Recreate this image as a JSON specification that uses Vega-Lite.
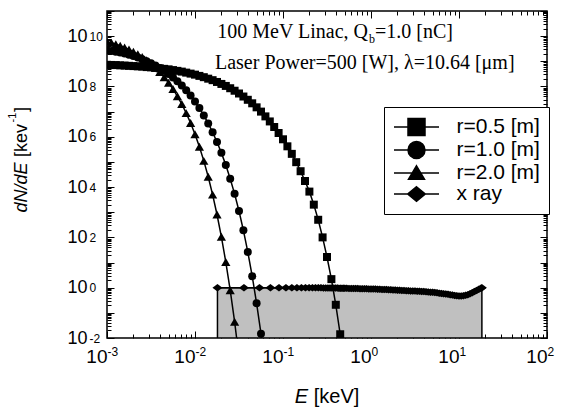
{
  "$schema": "https://vega.github.io/schema/vega-lite/v6.json",
  "width": 440,
  "height": 327,
  "autosize": {"type": "none"},
  "padding": {"left": 107, "top": 11, "right": 14, "bottom": 73},
  "background": "white",
  "config": {
    "view": {"stroke": "black", "strokeWidth": 1.5},
    "axis": {"grid": false, "domain": false, "tickColor": "black", "labelColor": "black", "titleColor": "black", "labelFlush": false, "labelOverlap": false, "labelFont": "Liberation Sans", "titleFont": "Liberation Sans", "titleFontWeight": "normal"}
  },
  "datasets": {
    "curves": [
      {"s": "r=0.5 [m]", "E": 0.001, "N": 7.24e8},
      {"s": "r=0.5 [m]", "E": 0.001122, "N": 7.16e8},
      {"s": "r=0.5 [m]", "E": 0.001259, "N": 7.08e8},
      {"s": "r=0.5 [m]", "E": 0.001413, "N": 6.92e8},
      {"s": "r=0.5 [m]", "E": 0.001585, "N": 6.76e8},
      {"s": "r=0.5 [m]", "E": 0.001778, "N": 6.61e8},
      {"s": "r=0.5 [m]", "E": 0.001995, "N": 6.46e8},
      {"s": "r=0.5 [m]", "E": 0.002239, "N": 6.31e8},
      {"s": "r=0.5 [m]", "E": 0.002512, "N": 6.17e8},
      {"s": "r=0.5 [m]", "E": 0.002818, "N": 5.89e8},
      {"s": "r=0.5 [m]", "E": 0.003162, "N": 5.75e8},
      {"s": "r=0.5 [m]", "E": 0.003548, "N": 5.50e8},
      {"s": "r=0.5 [m]", "E": 0.003981, "N": 5.25e8},
      {"s": "r=0.5 [m]", "E": 0.004467, "N": 5.01e8},
      {"s": "r=0.5 [m]", "E": 0.005012, "N": 4.79e8},
      {"s": "r=0.5 [m]", "E": 0.005623, "N": 4.47e8},
      {"s": "r=0.5 [m]", "E": 0.00631, "N": 4.17e8},
      {"s": "r=0.5 [m]", "E": 0.007079, "N": 3.89e8},
      {"s": "r=0.5 [m]", "E": 0.007943, "N": 3.55e8},
      {"s": "r=0.5 [m]", "E": 0.008913, "N": 3.24e8},
      {"s": "r=0.5 [m]", "E": 0.01, "N": 2.95e8},
      {"s": "r=0.5 [m]", "E": 0.01122, "N": 2.63e8},
      {"s": "r=0.5 [m]", "E": 0.01259, "N": 2.34e8},
      {"s": "r=0.5 [m]", "E": 0.01413, "N": 2.04e8},
      {"s": "r=0.5 [m]", "E": 0.01585, "N": 1.78e8},
      {"s": "r=0.5 [m]", "E": 0.01778, "N": 1.51e8},
      {"s": "r=0.5 [m]", "E": 0.01995, "N": 1.26e8},
      {"s": "r=0.5 [m]", "E": 0.02239, "N": 1.05e8},
      {"s": "r=0.5 [m]", "E": 0.02512, "N": 8.51e7},
      {"s": "r=0.5 [m]", "E": 0.02818, "N": 6.76e7},
      {"s": "r=0.5 [m]", "E": 0.03162, "N": 5.25e7},
      {"s": "r=0.5 [m]", "E": 0.03548, "N": 3.98e7},
      {"s": "r=0.5 [m]", "E": 0.03981, "N": 2.95e7},
      {"s": "r=0.5 [m]", "E": 0.04467, "N": 2.14e7},
      {"s": "r=0.5 [m]", "E": 0.05012, "N": 1.48e7},
      {"s": "r=0.5 [m]", "E": 0.05623, "N": 1.0e7},
      {"s": "r=0.5 [m]", "E": 0.0631, "N": 6.46e6},
      {"s": "r=0.5 [m]", "E": 0.07079, "N": 4.07e6},
      {"s": "r=0.5 [m]", "E": 0.07943, "N": 2.45e6},
      {"s": "r=0.5 [m]", "E": 0.08913, "N": 1.41e6},
      {"s": "r=0.5 [m]", "E": 0.1, "N": 7.94e5},
      {"s": "r=0.5 [m]", "E": 0.1122, "N": 4.17e5},
      {"s": "r=0.5 [m]", "E": 0.1259, "N": 2.09e5},
      {"s": "r=0.5 [m]", "E": 0.1413, "N": 9.77e4},
      {"s": "r=0.5 [m]", "E": 0.1585, "N": 4.27e4},
      {"s": "r=0.5 [m]", "E": 0.1778, "N": 1.74e4},
      {"s": "r=0.5 [m]", "E": 0.1995, "N": 6.61e3},
      {"s": "r=0.5 [m]", "E": 0.2239, "N": 2.0e3},
      {"s": "r=0.5 [m]", "E": 0.2512, "N": 501},
      {"s": "r=0.5 [m]", "E": 0.2818, "N": 100},
      {"s": "r=0.5 [m]", "E": 0.3162, "N": 16.6},
      {"s": "r=0.5 [m]", "E": 0.3548, "N": 2.19},
      {"s": "r=0.5 [m]", "E": 0.3981, "N": 0.209},
      {"s": "r=0.5 [m]", "E": 0.4467, "N": 0.0141},
      {"s": "r=1.0 [m]", "E": 0.001, "N": 2.75e9},
      {"s": "r=1.0 [m]", "E": 0.001122, "N": 2.57e9},
      {"s": "r=1.0 [m]", "E": 0.001259, "N": 2.40e9},
      {"s": "r=1.0 [m]", "E": 0.001413, "N": 2.24e9},
      {"s": "r=1.0 [m]", "E": 0.001585, "N": 2.04e9},
      {"s": "r=1.0 [m]", "E": 0.001778, "N": 1.82e9},
      {"s": "r=1.0 [m]", "E": 0.001995, "N": 1.62e9},
      {"s": "r=1.0 [m]", "E": 0.002239, "N": 1.41e9},
      {"s": "r=1.0 [m]", "E": 0.002512, "N": 1.20e9},
      {"s": "r=1.0 [m]", "E": 0.002818, "N": 1.0e9},
      {"s": "r=1.0 [m]", "E": 0.003162, "N": 8.32e8},
      {"s": "r=1.0 [m]", "E": 0.003548, "N": 6.76e8},
      {"s": "r=1.0 [m]", "E": 0.003981, "N": 5.37e8},
      {"s": "r=1.0 [m]", "E": 0.004467, "N": 4.17e8},
      {"s": "r=1.0 [m]", "E": 0.005012, "N": 3.16e8},
      {"s": "r=1.0 [m]", "E": 0.005623, "N": 2.29e8},
      {"s": "r=1.0 [m]", "E": 0.00631, "N": 1.62e8},
      {"s": "r=1.0 [m]", "E": 0.007079, "N": 1.10e8},
      {"s": "r=1.0 [m]", "E": 0.007943, "N": 7.08e7},
      {"s": "r=1.0 [m]", "E": 0.008913, "N": 4.37e7},
      {"s": "r=1.0 [m]", "E": 0.01, "N": 2.51e7},
      {"s": "r=1.0 [m]", "E": 0.01122, "N": 1.38e7},
      {"s": "r=1.0 [m]", "E": 0.01259, "N": 7.08e6},
      {"s": "r=1.0 [m]", "E": 0.01413, "N": 3.39e6},
      {"s": "r=1.0 [m]", "E": 0.01585, "N": 1.51e6},
      {"s": "r=1.0 [m]", "E": 0.01778, "N": 6.17e5},
      {"s": "r=1.0 [m]", "E": 0.01995, "N": 2.29e5},
      {"s": "r=1.0 [m]", "E": 0.02239, "N": 7.59e4},
      {"s": "r=1.0 [m]", "E": 0.02512, "N": 2.14e4},
      {"s": "r=1.0 [m]", "E": 0.02818, "N": 5.37e3},
      {"s": "r=1.0 [m]", "E": 0.03162, "N": 1.12e3},
      {"s": "r=1.0 [m]", "E": 0.03548, "N": 191},
      {"s": "r=1.0 [m]", "E": 0.03981, "N": 26.3},
      {"s": "r=1.0 [m]", "E": 0.04467, "N": 2.88},
      {"s": "r=1.0 [m]", "E": 0.05012, "N": 0.240},
      {"s": "r=1.0 [m]", "E": 0.05623, "N": 0.0148},
      {"s": "r=1.0 [m]", "E": 0.0631, "N": 6.3e-4},
      {"s": "r=2.0 [m]", "E": 0.001, "N": 6.03e9},
      {"s": "r=2.0 [m]", "E": 0.001122, "N": 5.50e9},
      {"s": "r=2.0 [m]", "E": 0.001259, "N": 4.79e9},
      {"s": "r=2.0 [m]", "E": 0.001413, "N": 4.17e9},
      {"s": "r=2.0 [m]", "E": 0.001585, "N": 3.55e9},
      {"s": "r=2.0 [m]", "E": 0.001778, "N": 2.95e9},
      {"s": "r=2.0 [m]", "E": 0.001995, "N": 2.40e9},
      {"s": "r=2.0 [m]", "E": 0.002239, "N": 1.91e9},
      {"s": "r=2.0 [m]", "E": 0.002512, "N": 1.48e9},
      {"s": "r=2.0 [m]", "E": 0.002818, "N": 1.10e9},
      {"s": "r=2.0 [m]", "E": 0.003162, "N": 7.94e8},
      {"s": "r=2.0 [m]", "E": 0.003548, "N": 5.50e8},
      {"s": "r=2.0 [m]", "E": 0.003981, "N": 3.72e8},
      {"s": "r=2.0 [m]", "E": 0.004467, "N": 2.34e8},
      {"s": "r=2.0 [m]", "E": 0.005012, "N": 1.41e8},
      {"s": "r=2.0 [m]", "E": 0.005623, "N": 7.94e7},
      {"s": "r=2.0 [m]", "E": 0.00631, "N": 4.07e7},
      {"s": "r=2.0 [m]", "E": 0.007079, "N": 2.0e7},
      {"s": "r=2.0 [m]", "E": 0.007943, "N": 8.71e6},
      {"s": "r=2.0 [m]", "E": 0.008913, "N": 3.55e6},
      {"s": "r=2.0 [m]", "E": 0.01, "N": 1.26e6},
      {"s": "r=2.0 [m]", "E": 0.01122, "N": 3.98e5},
      {"s": "r=2.0 [m]", "E": 0.01259, "N": 1.10e5},
      {"s": "r=2.0 [m]", "E": 0.01413, "N": 2.57e4},
      {"s": "r=2.0 [m]", "E": 0.01585, "N": 5.01e3},
      {"s": "r=2.0 [m]", "E": 0.01778, "N": 813},
      {"s": "r=2.0 [m]", "E": 0.01995, "N": 105},
      {"s": "r=2.0 [m]", "E": 0.02239, "N": 10.5},
      {"s": "r=2.0 [m]", "E": 0.02512, "N": 0.794},
      {"s": "r=2.0 [m]", "E": 0.02818, "N": 0.0447},
      {"s": "r=2.0 [m]", "E": 0.03162, "N": 1.74e-3},
      {"s": "x ray", "E": 0.018, "N": 1},
      {"s": "x ray", "E": 0.036, "N": 1},
      {"s": "x ray", "E": 0.054, "N": 1},
      {"s": "x ray", "E": 0.072, "N": 1},
      {"s": "x ray", "E": 0.09, "N": 1},
      {"s": "x ray", "E": 0.108, "N": 1},
      {"s": "x ray", "E": 0.126, "N": 1},
      {"s": "x ray", "E": 0.144, "N": 1},
      {"s": "x ray", "E": 0.162, "N": 1},
      {"s": "x ray", "E": 0.18, "N": 1},
      {"s": "x ray", "E": 0.198, "N": 1},
      {"s": "x ray", "E": 0.216, "N": 0.995},
      {"s": "x ray", "E": 0.234, "N": 0.992},
      {"s": "x ray", "E": 0.252, "N": 0.989},
      {"s": "x ray", "E": 0.27, "N": 0.986},
      {"s": "x ray", "E": 0.288, "N": 0.983},
      {"s": "x ray", "E": 0.306, "N": 0.98},
      {"s": "x ray", "E": 0.324, "N": 0.977},
      {"s": "x ray", "E": 0.342, "N": 0.974},
      {"s": "x ray", "E": 0.36, "N": 0.971},
      {"s": "x ray", "E": 0.378, "N": 0.968},
      {"s": "x ray", "E": 0.396, "N": 0.965},
      {"s": "x ray", "E": 0.414, "N": 0.962},
      {"s": "x ray", "E": 0.432, "N": 0.959},
      {"s": "x ray", "E": 0.45, "N": 0.956},
      {"s": "x ray", "E": 0.468, "N": 0.953},
      {"s": "x ray", "E": 0.486, "N": 0.95},
      {"s": "x ray", "E": 0.504, "N": 0.947},
      {"s": "x ray", "E": 0.5309, "N": 0.942},
      {"s": "x ray", "E": 0.5623, "N": 0.938},
      {"s": "x ray", "E": 0.5957, "N": 0.934},
      {"s": "x ray", "E": 0.631, "N": 0.93},
      {"s": "x ray", "E": 0.6683, "N": 0.925},
      {"s": "x ray", "E": 0.7079, "N": 0.92},
      {"s": "x ray", "E": 0.7499, "N": 0.915},
      {"s": "x ray", "E": 0.7943, "N": 0.91},
      {"s": "x ray", "E": 0.8414, "N": 0.905},
      {"s": "x ray", "E": 0.8913, "N": 0.9},
      {"s": "x ray", "E": 0.9441, "N": 0.895},
      {"s": "x ray", "E": 1.0, "N": 0.891},
      {"s": "x ray", "E": 1.059, "N": 0.886},
      {"s": "x ray", "E": 1.122, "N": 0.88},
      {"s": "x ray", "E": 1.189, "N": 0.872},
      {"s": "x ray", "E": 1.259, "N": 0.862},
      {"s": "x ray", "E": 1.334, "N": 0.855},
      {"s": "x ray", "E": 1.413, "N": 0.848},
      {"s": "x ray", "E": 1.496, "N": 0.84},
      {"s": "x ray", "E": 1.585, "N": 0.833},
      {"s": "x ray", "E": 1.679, "N": 0.825},
      {"s": "x ray", "E": 1.778, "N": 0.816},
      {"s": "x ray", "E": 1.884, "N": 0.805},
      {"s": "x ray", "E": 1.995, "N": 0.794},
      {"s": "x ray", "E": 2.113, "N": 0.786},
      {"s": "x ray", "E": 2.239, "N": 0.778},
      {"s": "x ray", "E": 2.371, "N": 0.77},
      {"s": "x ray", "E": 2.512, "N": 0.762},
      {"s": "x ray", "E": 2.661, "N": 0.754},
      {"s": "x ray", "E": 2.818, "N": 0.746},
      {"s": "x ray", "E": 2.985, "N": 0.741},
      {"s": "x ray", "E": 3.162, "N": 0.733},
      {"s": "x ray", "E": 3.35, "N": 0.725},
      {"s": "x ray", "E": 3.548, "N": 0.717},
      {"s": "x ray", "E": 3.758, "N": 0.708},
      {"s": "x ray", "E": 3.981, "N": 0.7},
      {"s": "x ray", "E": 4.217, "N": 0.69},
      {"s": "x ray", "E": 4.467, "N": 0.678},
      {"s": "x ray", "E": 4.732, "N": 0.665},
      {"s": "x ray", "E": 5.012, "N": 0.652},
      {"s": "x ray", "E": 5.309, "N": 0.638},
      {"s": "x ray", "E": 5.623, "N": 0.624},
      {"s": "x ray", "E": 5.957, "N": 0.608},
      {"s": "x ray", "E": 6.31, "N": 0.593},
      {"s": "x ray", "E": 6.683, "N": 0.577},
      {"s": "x ray", "E": 7.079, "N": 0.56},
      {"s": "x ray", "E": 7.499, "N": 0.543},
      {"s": "x ray", "E": 7.943, "N": 0.525},
      {"s": "x ray", "E": 8.414, "N": 0.508},
      {"s": "x ray", "E": 8.913, "N": 0.492},
      {"s": "x ray", "E": 9.441, "N": 0.478},
      {"s": "x ray", "E": 10.0, "N": 0.47},
      {"s": "x ray", "E": 10.59, "N": 0.47},
      {"s": "x ray", "E": 11.22, "N": 0.478},
      {"s": "x ray", "E": 11.89, "N": 0.498},
      {"s": "x ray", "E": 12.59, "N": 0.53},
      {"s": "x ray", "E": 13.34, "N": 0.575},
      {"s": "x ray", "E": 14.13, "N": 0.635},
      {"s": "x ray", "E": 14.96, "N": 0.7},
      {"s": "x ray", "E": 15.85, "N": 0.775},
      {"s": "x ray", "E": 16.79, "N": 0.86},
      {"s": "x ray", "E": 17.78, "N": 0.95},
      {"s": "x ray", "E": 18.2, "N": 1.0}
    ],
    "legendrows": [
      {"s": "r=0.5 [m]", "E": 1, "N": 1},
      {"s": "r=1.0 [m]", "E": 1, "N": 1},
      {"s": "r=2.0 [m]", "E": 1, "N": 1},
      {"s": "x ray", "E": 1, "N": 1}
    ]
  },
  "layer": [
    {
      "data": {"name": "curves"},
      "layer": [
        {
          "transform": [{"filter": "datum.s == 'x ray'"}],
          "mark": {"type": "area", "fill": "#c0c0c0", "stroke": "black", "strokeWidth": 1.5, "clip": true},
          "encoding": {
            "x": {"field": "E", "type": "quantitative", "scale": {"type": "log", "domain": [0.001, 100], "nice": false},
              "axis": {
                "orient": "bottom",
                "values": [0.001,0.002,0.003,0.004,0.005,0.006,0.007,0.008,0.009,0.01,0.02,0.03,0.04,0.05,0.06,0.07,0.08,0.09,0.1,0.2,0.3,0.4,0.5,0.6,0.7,0.8,0.9,1,2,3,4,5,6,7,8,9,10,20,30,40,50,60,70,80,90,100],
                "labelExpr": "abs(log(datum.value)/LN10 - round(log(datum.value)/LN10)) < 0.01 ? '10' : ''",
                "tickSize": {"condition": {"test": "abs(log(datum.value)/LN10 - round(log(datum.value)/LN10)) < 0.01", "value": -7}, "value": -4},
                "tickWidth": 1,
                "labelAlign": "right", "labelDx": 5, "labelBaseline": "middle", "labelPadding": 25,
                "labelFontSize": 19,
                "title": "E", "titleFontSize": 20, "titleFontStyle": "italic",
                "titleX": 194, "titleY": 58, "titleAlign": "center", "titleBaseline": "middle", "titleAngle": 0
              }},
            "y": {"field": "N", "type": "quantitative", "scale": {"type": "log", "domain": [0.01, 1e11], "nice": false},
              "axis": {
                "orient": "left",
                "values": [0.01,0.02,0.03,0.04,0.05,0.06,0.07,0.08,0.09,0.1,0.2,0.3,0.4,0.5,0.6,0.7,0.8,0.9,1,2,3,4,5,6,7,8,9,10,20,30,40,50,60,70,80,90,100,200,300,400,500,600,700,800,900,1e3,2e3,3e3,4e3,5e3,6e3,7e3,8e3,9e3,1e4,2e4,3e4,4e4,5e4,6e4,7e4,8e4,9e4,1e5,2e5,3e5,4e5,5e5,6e5,7e5,8e5,9e5,1e6,2e6,3e6,4e6,5e6,6e6,7e6,8e6,9e6,1e7,2e7,3e7,4e7,5e7,6e7,7e7,8e7,9e7,1e8,2e8,3e8,4e8,5e8,6e8,7e8,8e8,9e8,1e9,2e9,3e9,4e9,5e9,6e9,7e9,8e9,9e9,1e10,2e10,3e10,4e10,5e10,6e10,7e10,8e10,9e10,1e11],
                "labelExpr": "(abs(log(datum.value)/LN10 - round(log(datum.value)/LN10)) < 0.01 && round(log(datum.value)/LN10) % 2 == 0) ? '10' : ''",
                "tickSize": {"condition": {"test": "abs(log(datum.value)/LN10 - round(log(datum.value)/LN10)) < 0.01", "value": -7}, "value": -4},
                "tickWidth": 1,
                "labelAlign": "right", "labelBaseline": "middle", "labelPadding": 27,
                "labelFontSize": 18,
                "title": "dN/dE", "titleFontSize": 18, "titleFontStyle": "italic",
                "titleAngle": 270, "titleX": -86, "titleY": 176, "titleAlign": "center", "titleBaseline": "middle"
              }},
            "y2": {"datum": 0.01}
          }
        },
        {
          "mark": {"type": "line", "color": "black", "strokeWidth": 1.5, "clip": true},
          "encoding": {
            "x": {"field": "E", "type": "quantitative"},
            "y": {"field": "N", "type": "quantitative"},
            "detail": {"field": "s"}
          }
        },
        {
          "transform": [{"filter": "datum.s == 'r=0.5 [m]'"}],
          "mark": {"type": "point", "shape": "square", "size": 64, "filled": true, "color": "black", "opacity": 1, "clip": true},
          "encoding": {"x": {"field": "E", "type": "quantitative"}, "y": {"field": "N", "type": "quantitative"}}
        },
        {
          "transform": [{"filter": "datum.s == 'r=1.0 [m]'"}],
          "mark": {"type": "point", "shape": "circle", "size": 64, "filled": true, "color": "black", "opacity": 1, "clip": true},
          "encoding": {"x": {"field": "E", "type": "quantitative"}, "y": {"field": "N", "type": "quantitative"}}
        },
        {
          "transform": [{"filter": "datum.s == 'r=2.0 [m]'"}],
          "mark": {"type": "point", "shape": "triangle-up", "size": 85, "filled": true, "color": "black", "opacity": 1, "clip": true},
          "encoding": {"x": {"field": "E", "type": "quantitative"}, "y": {"field": "N", "type": "quantitative"}}
        },
        {
          "transform": [{"filter": "datum.s == 'x ray'"}],
          "mark": {"type": "point", "shape": "M-1,0L0,-0.75L1,0L0,0.75Z", "size": 100, "filled": true, "color": "black", "opacity": 1, "clip": true},
          "encoding": {"x": {"field": "E", "type": "quantitative"}, "y": {"field": "N", "type": "quantitative"}}
        },
        {
          "data": {"values": [{"t": "100 MeV Linac, Q", "E": 0.9247, "N": 8.3e9}]},
          "mark": {"type": "text", "align": "right", "baseline": "alphabetic", "font": "Liberation Serif", "fontSize": 20, "fill": "black"},
          "encoding": {"x": {"field": "E", "type": "quantitative"}, "y": {"field": "N", "type": "quantitative"}, "text": {"field": "t"}}
        },
        {
          "data": {"values": [{"t": "b", "E": 0.949, "N": 5.25e9}]},
          "mark": {"type": "text", "align": "left", "baseline": "alphabetic", "font": "Liberation Serif", "fontSize": 12, "fill": "black"},
          "encoding": {"x": {"field": "E", "type": "quantitative"}, "y": {"field": "N", "type": "quantitative"}, "text": {"field": "t"}}
        },
        {
          "data": {"values": [{"t": "=1.0 [nC]", "E": 1.11, "N": 8.3e9}, {"t": "Laser Power=500 [W], λ=10.64 [μm]", "E": 0.01687, "N": 4.8e8}]},
          "mark": {"type": "text", "align": "left", "baseline": "alphabetic", "font": "Liberation Serif", "fontSize": 20, "fill": "black"},
          "encoding": {"x": {"field": "E", "type": "quantitative"}, "y": {"field": "N", "type": "quantitative"}, "text": {"field": "t"}}
        }
      ]
    },
    {
      "data": {"name": "legendrows"},
      "mark": {"type": "point", "filled": false, "fill": "black", "stroke": "black", "strokeWidth": 1.5, "opacity": 0},
      "encoding": {
        "x": {"field": "E", "type": "quantitative", "scale": {"type": "log", "domain": [0.001, 100], "nice": false},
          "axis": {"orient": "bottom", "values": [0.001, 0.01, 0.1, 1, 10, 100], "ticks": false, "tickSize": 0,
            "labelExpr": "'' + round(log(datum.value)/LN10)",
            "labelAlign": "left", "labelDx": 5, "labelBaseline": "middle", "labelPadding": 13, "labelFontSize": 12,
            "title": "[keV]", "titleFontSize": 20, "titleX": 229, "titleY": 58, "titleAlign": "center", "titleBaseline": "middle"}},
        "y": {"field": "N", "type": "quantitative", "scale": {"type": "log", "domain": [0.01, 1e11], "nice": false},
          "axis": {"orient": "left", "values": [0.01, 1, 100, 1e4, 1e6, 1e8, 1e10], "ticks": false, "tickSize": 0,
            "labelExpr": "'' + round(log(datum.value)/LN10)",
            "labelAlign": "left", "labelBaseline": "middle", "labelPadding": 18, "labelDy": -6, "labelFontSize": 12,
            "title": "[kev", "titleFontSize": 18, "titleAngle": 270, "titleX": -86, "titleY": 129, "titleAlign": "center", "titleBaseline": "middle"}},
        "shape": {"field": "s", "type": "nominal",
          "scale": {"domain": ["r=0.5 [m]", "r=1.0 [m]", "r=2.0 [m]", "x ray"],
            "range": [
              "M-2.25,0H2.25M-0.85,-0.85H0.85V0.85H-0.85Z",
              "M-2.25,0H2.25M0.85,0A0.85,0.85,0,1,1,-0.85,0A0.85,0.85,0,1,1,0.85,0Z",
              "M-2.25,0H2.25M0,-0.72L0.8,0.62H-0.8Z",
              "M-2.25,0H2.25M0,-0.72L0.88,0L0,0.72L-0.88,0Z"
            ]},
          "legend": {"orient": "none", "legendX": 277, "legendY": 96, "title": null,
            "strokeColor": "black", "fillColor": "white", "padding": 9,
            "symbolSize": 400, "symbolOffset": 12.5, "symbolStrokeWidth": 1.5, "symbolOpacity": 1,
            "labelFont": "Liberation Sans", "labelFontSize": 21, "labelColor": "black", "labelOffset": 29, "rowPadding": -1,
            "encode": {"symbols": {"fill": {"value": "black"}, "stroke": {"value": "black"}, "strokeWidth": {"value": 1.5}, "opacity": {"value": 1}}}}}
      }
    },
    {
      "data": {"name": "legendrows"},
      "mark": {"type": "point", "opacity": 0},
      "encoding": {
        "x": {"field": "E", "type": "quantitative", "scale": {"type": "log", "domain": [0.001, 100], "nice": false},
          "axis": {"orient": "top", "labels": false,
            "title": "]", "titleFontSize": 18, "titleAngle": 270, "titleX": -86, "titleY": 98, "titleAlign": "center", "titleBaseline": "middle",
            "values": [0.001,0.002,0.003,0.004,0.005,0.006,0.007,0.008,0.009,0.01,0.02,0.03,0.04,0.05,0.06,0.07,0.08,0.09,0.1,0.2,0.3,0.4,0.5,0.6,0.7,0.8,0.9,1,2,3,4,5,6,7,8,9,10,20,30,40,50,60,70,80,90,100],
            "tickSize": {"condition": {"test": "abs(log(datum.value)/LN10 - round(log(datum.value)/LN10)) < 0.01", "value": -7}, "value": -4}}},
        "y": {"field": "N", "type": "quantitative", "scale": {"type": "log", "domain": [0.01, 1e11], "nice": false},
          "axis": {"orient": "right", "labels": false,
            "title": "-1", "titleFontSize": 11, "titleAngle": 270, "titleX": -535, "titleY": 106, "titleAlign": "center", "titleBaseline": "middle",
            "values": [0.01,0.02,0.03,0.04,0.05,0.06,0.07,0.08,0.09,0.1,0.2,0.3,0.4,0.5,0.6,0.7,0.8,0.9,1,2,3,4,5,6,7,8,9,10,20,30,40,50,60,70,80,90,100,200,300,400,500,600,700,800,900,1e3,2e3,3e3,4e3,5e3,6e3,7e3,8e3,9e3,1e4,2e4,3e4,4e4,5e4,6e4,7e4,8e4,9e4,1e5,2e5,3e5,4e5,5e5,6e5,7e5,8e5,9e5,1e6,2e6,3e6,4e6,5e6,6e6,7e6,8e6,9e6,1e7,2e7,3e7,4e7,5e7,6e7,7e7,8e7,9e7,1e8,2e8,3e8,4e8,5e8,6e8,7e8,8e8,9e8,1e9,2e9,3e9,4e9,5e9,6e9,7e9,8e9,9e9,1e10,2e10,3e10,4e10,5e10,6e10,7e10,8e10,9e10,1e11],
            "tickSize": {"condition": {"test": "abs(log(datum.value)/LN10 - round(log(datum.value)/LN10)) < 0.01", "value": -7}, "value": -4}}}
      }
    }
  ],
  "resolve": {"axis": {"x": "independent", "y": "independent"}}
}
